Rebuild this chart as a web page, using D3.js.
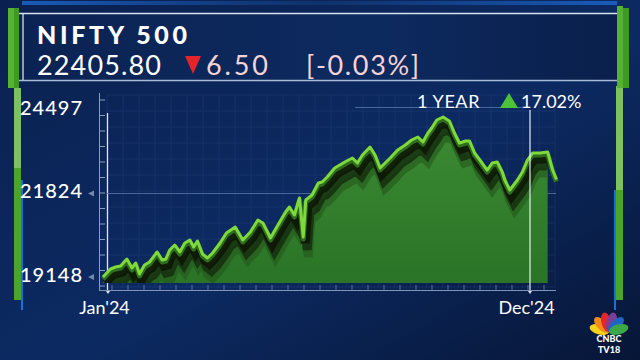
<!DOCTYPE html>
<html>
<head>
<meta charset="utf-8">
<script src="https://cdn.jsdelivr.net/npm/d3@7"></script>
<style>
  body { margin: 0; background: #081a3f; }
  svg { display: block; }
  text { font-family: Lato, "Open Sans", sans-serif; }
</style>
</head>
<body>
<svg id="chart" width="640" height="360"></svg>
<script>
// NIFTY 500, one year
var dates = ["2023-12-28","2024-01-03","2024-01-07","2024-01-11","2024-01-16","2024-01-20","2024-01-23","2024-01-26","2024-01-30",
  "2024-02-03","2024-02-09","2024-02-13","2024-02-16","2024-02-19","2024-02-23","2024-02-27","2024-03-02","2024-03-06","2024-03-09",
  "2024-03-12","2024-03-16","2024-03-20","2024-03-24","2024-03-30","2024-04-04","2024-04-11","2024-04-17","2024-04-23","2024-04-29",
  "2024-05-03","2024-05-09","2024-05-14","2024-05-21","2024-05-24","2024-05-28","2024-06-01","2024-06-04","2024-06-06","2024-06-11",
  "2024-06-16","2024-06-19","2024-06-23","2024-06-29","2024-07-07","2024-07-13","2024-07-17","2024-07-21","2024-07-27","2024-07-31",
  "2024-08-04","2024-08-08","2024-08-12","2024-08-18","2024-08-24","2024-08-29","2024-09-03","2024-09-07","2024-09-11","2024-09-14",
  "2024-09-18","2024-09-23","2024-09-28","2024-10-02","2024-10-06","2024-10-11","2024-10-14","2024-10-18","2024-10-24","2024-10-28",
  "2024-11-01","2024-11-05","2024-11-09","2024-11-11","2024-11-15","2024-11-21","2024-11-25","2024-11-29","2024-12-03","2024-12-09",
  "2024-12-15","2024-12-19","2024-12-22"];
var values = [19148,19415,19482,19516,19750,19449,19616,19248,19549,
  19649,19984,19716,19750,20051,20218,19984,20285,20385,20151,
  20351,19917,19783,19950,20285,20619,20820,20385,20652,21054,
  20953,20452,20820,21321,21488,21221,21789,20485,21722,21889,
  22290,22324,22491,22792,22992,23126,22959,23226,23494,23226,
  22792,22959,23126,23394,23561,23728,23828,23661,23962,24129,
  24397,24497,24363,23962,23628,23694,23694,23293,22959,22725,
  22959,22992,22658,22391,22056,22391,22658,23059,23293,23293,
  23327,22725,22405.8];
var yTicks = [19148, 21824, 24497];
var xTickLabels = ["Jan'24", "Dec'24"];
var xTickDates = ["2024-01-01", "2024-12-01"];

var title = "NIFTY 500",
    lastValue = "22405.80",
    change = "6.50",
    changePct = "[-0.03%]",
    periodLabel = "1 YEAR",
    periodPct = "17.02%";

var parse = d3.timeParse("%Y-%m-%d");
var data = dates.map(function(d, i) { return { date: parse(d), value: values[i] }; });

var svg = d3.select("#chart");
var defs = svg.append("defs");

/** background */
var bg = defs.append("linearGradient").attr("id", "bg").attr("x1", 0).attr("y1", 0).attr("x2", 1).attr("y2", 1);
bg.append("stop").attr("offset", "0%").attr("stop-color", "#0a2150");
bg.append("stop").attr("offset", "55%").attr("stop-color", "#0c2a62");
bg.append("stop").attr("offset", "100%").attr("stop-color", "#071637");
svg.append("rect").attr("width", 640).attr("height", 360).attr("fill", "url(#bg)");

// faint plot grid
var grid = svg.append("g").attr("opacity", 0.12);
d3.range(107, 556, 16).forEach(function(x) {
  grid.append("line").attr("x1", x).attr("x2", x).attr("y1", 95).attr("y2", 288).attr("stroke", "#5f86c8");
});
d3.range(95, 289, 16).forEach(function(y) {
  grid.append("line").attr("x1", 107).attr("x2", 555).attr("y1", y).attr("y2", y).attr("stroke", "#5f86c8");
});

// top blue strip
var topStrip = defs.append("linearGradient").attr("id", "topStrip");
topStrip.append("stop").attr("offset", "0%").attr("stop-color", "#1b62c4").attr("stop-opacity", 0.9);
topStrip.append("stop").attr("offset", "50%").attr("stop-color", "#123a7a").attr("stop-opacity", 0.6);
topStrip.append("stop").attr("offset", "100%").attr("stop-color", "#1b62c4").attr("stop-opacity", 0.9);
svg.append("rect").attr("x", 22).attr("y", 1).attr("width", 595).attr("height", 4).attr("fill", "url(#topStrip)");

/** header box */
var hdr = defs.append("linearGradient").attr("id", "hdr").attr("x1", 0).attr("y1", 0).attr("x2", 1).attr("y2", 0);
hdr.append("stop").attr("offset", "0%").attr("stop-color", "#0b2353");
hdr.append("stop").attr("offset", "60%").attr("stop-color", "#0d2a5f");
hdr.append("stop").attr("offset", "100%").attr("stop-color", "#0a1f4b");
svg.append("rect").attr("x", 18).attr("y", 13).attr("width", 600).attr("height", 68).attr("fill", "url(#hdr)");
svg.append("line").attr("x1", 10).attr("x2", 628).attr("y1", 13.5).attr("y2", 13.5).attr("stroke", "#d8e2ef").attr("stroke-width", 1.6);
svg.append("line").attr("x1", 10).attr("x2", 628).attr("y1", 80.5).attr("y2", 80.5).attr("stroke", "#a9bcd8").attr("stroke-width", 1.4);
svg.append("line").attr("x1", 23).attr("x2", 23).attr("y1", 14).attr("y2", 80).attr("stroke", "#e8eef6").attr("stroke-width", 1.2);

// green side bars
svg.append("rect").attr("x", 14).attr("y", 88).attr("width", 7).attr("height", 212).attr("fill", "#4aa52a");
svg.append("rect").attr("x", 14).attr("y", 88).attr("width", 7).attr("height", 80).attr("fill", "#7cc262");
svg.append("rect").attr("x", 21).attr("y", 180).attr("width", 2).attr("height", 130).attr("fill", "#1f6fd0");
svg.append("rect").attr("x", 8).attr("y", 8).attr("width", 6).attr("height", 80).attr("fill", "#56b232");
svg.append("rect").attr("x", 14).attr("y", 8).attr("width", 5).attr("height", 80).attr("fill", "#3e9a24");
svg.append("rect").attr("x", 616).attr("y", 86).attr("width", 7).attr("height", 214).attr("fill", "#4aa52a");
svg.append("rect").attr("x", 616).attr("y", 86).attr("width", 7).attr("height", 104).attr("fill", "#7cc262");
svg.append("rect").attr("x", 614).attr("y", 190).attr("width", 2).attr("height", 120).attr("fill", "#1f6fd0");
svg.append("rect").attr("x", 617).attr("y", 6).attr("width", 6).attr("height", 82).attr("fill", "#56b232");
svg.append("rect").attr("x", 623).attr("y", 8).attr("width", 6).attr("height", 80).attr("fill", "#3e9a24");

// header texts
svg.append("text").attr("x", 37).attr("y", 44).text(title)
  .attr("fill", "#ffffff").attr("font-size", 25).attr("font-weight", 900).attr("textLength", 150);
svg.append("text").attr("x", 37).attr("y", 75).text(lastValue)
  .attr("fill", "#ffffff").attr("font-size", 27).attr("font-family", "Roboto").attr("textLength", 124);
svg.append("path").attr("d", "M185,56 L201,56 L193,74 Z").attr("fill", "#e3242b");
svg.append("text").attr("x", 206).attr("y", 75).text(change)
  .attr("fill", "#f6d3d6").attr("font-size", 27).attr("font-family", "Roboto").attr("textLength", 62);
svg.append("text").attr("x", 306).attr("y", 75).text(changePct)
  .attr("fill", "#f6d3d6").attr("font-size", 27).attr("font-family", "Roboto").attr("textLength", 113);

/** scales */
var x = d3.scaleTime().domain([parse(xTickDates[0]), parse(xTickDates[1])]).range([108, 530]);
var y = d3.scaleLinear().domain([19148, 24497]).range([277, 117]);
// the printed labels sit a little apart from the data scale
var yLabel = d3.scaleLinear().domain([19148, 24497]).range([275, 108]);

// left axis lines
svg.append("line").attr("x1", 99.5).attr("x2", 99.5).attr("y1", 93).attr("y2", 290).attr("stroke", "#8a9dbd").attr("stroke-width", 1);
d3.range(100, 290, 15.5).forEach(function(ty) {
  svg.append("line").attr("x1", 99.5).attr("x2", 105).attr("y1", ty).attr("y2", ty).attr("stroke", "#8a9dbd").attr("stroke-width", 1);
});
svg.append("line").attr("x1", 107.5).attr("x2", 107.5).attr("y1", 113).attr("y2", 290).attr("stroke", "#dfe7f3").attr("stroke-width", 1.3);

// mid horizontal line
svg.append("line").attr("x1", 107).attr("x2", 556).attr("y1", 193.5).attr("y2", 193.5).attr("stroke", "#5a78aa").attr("stroke-width", 1).attr("opacity", 0.8);

// y labels + little arrows
yTicks.forEach(function(v, i) {
  svg.append("text").attr("x", 82).attr("y", yLabel(v) + 7).attr("text-anchor", "end")
    .attr("fill", "#ffffff").attr("font-size", 20).attr("font-weight", 500).attr("font-family", "Roboto")
    .attr("textLength", 62).text(d3.format("d")(v));
  if (i < 2) {
    var ay = yLabel(v) + 2;
    svg.append("path").attr("d", "M88," + ay + " L94," + (ay - 3) + " L94," + (ay + 3) + " Z").attr("fill", "#7388ad");
  }
});

/** area + 3D line */
var fillGrad = defs.append("linearGradient").attr("id", "fill").attr("x1", 0).attr("y1", 0).attr("x2", 0).attr("y2", 1);
fillGrad.append("stop").attr("offset", "0%").attr("stop-color", "#3c8c33");
fillGrad.append("stop").attr("offset", "100%").attr("stop-color", "#2a7327");

var areaData = data.filter(function(d) { return x(d.date) <= 549; });
var area = d3.area().x(function(d) { return x(d.date); }).y0(283).y1(function(d) { return y(d.value); });
svg.append("path").datum(areaData).attr("d", area).attr("fill", "url(#fill)");

var line = d3.line().x(function(d) { return x(d.date); }).y(function(d) { return y(d.value); });
var clip = defs.append("clipPath").attr("id", "areaClip");
clip.append("path").datum(areaData).attr("d", area);

// shaded extrusion below the ribbon
var shade = svg.append("g").attr("clip-path", "url(#areaClip)");
[[5, 20, "#24561b", 0.6], [4, 13, "#142a0e", 0.8], [2, 6, "#0d1706", 0.9]].forEach(function(s) {
  shade.append("path").datum(data).attr("d", line).attr("fill", "none")
    .attr("stroke", s[2]).attr("stroke-width", 9).attr("opacity", s[3])
    .attr("transform", "translate(" + s[0] + "," + s[1] + ")");
});
svg.append("path").datum(data).attr("d", line).attr("fill", "none")
  .attr("stroke", "#2f6e1f").attr("stroke-width", 5).attr("stroke-linejoin", "round").attr("transform", "translate(0,2)");
svg.append("path").datum(data).attr("d", line).attr("fill", "none")
  .attr("stroke", "#7fd83c").attr("stroke-width", 3).attr("stroke-linejoin", "round");

// bottom axis
svg.append("line").attr("x1", 99).attr("x2", 556).attr("y1", 290.5).attr("y2", 290.5).attr("stroke", "#7f94b8").attr("stroke-width", 1.2);
d3.range(112, 556, 16).forEach(function(tx) {
  svg.append("line").attr("x1", tx).attr("x2", tx).attr("y1", 285).attr("y2", 290).attr("stroke", "#6d86b0").attr("stroke-width", 0.8);
});
var xAxis = d3.axisBottom(x).tickValues(xTickDates.map(parse))
  .tickFormat(function(d, i) { return xTickLabels[i]; }).tickSize(0).tickPadding(10);
var gx = svg.append("g").attr("transform", "translate(0,291)").call(xAxis);
gx.select(".domain").remove();
gx.selectAll("text").attr("fill", "#ffffff").attr("font-size", 18).attr("font-family", "Roboto").attr("dx", "-4");
xTickDates.forEach(function(d) {
  var tx = x(parse(d));
  svg.append("path").attr("d", "M" + (tx - 2) + ",291 L" + (tx + 2) + ",291 L" + tx + ",294 Z").attr("fill", "#dfe7f3");
});

// december marker
svg.append("line").attr("x1", x(parse(xTickDates[1]))).attr("x2", x(parse(xTickDates[1])))
  .attr("y1", 110).attr("y2", 290).attr("stroke", "#e8eef8").attr("stroke-width", 1.2);

// 1 year label
svg.append("line").attr("x1", 355).attr("x2", 530).attr("y1", 107.5).attr("y2", 107.5).attr("stroke", "#48679c").attr("stroke-width", 1);
svg.append("text").attr("x", 417).attr("y", 108).text(periodLabel)
  .attr("fill", "#ffffff").attr("font-size", 18).attr("font-weight", 400).attr("letter-spacing", 0.6);
svg.append("path").attr("d", "M500,108 L509,93 L518,108 Z").attr("fill", "#4cc23a");
svg.append("text").attr("x", 521).attr("y", 108).text(periodPct)
  .attr("fill", "#ffffff").attr("font-size", 18).attr("font-weight", 400);

/** CNBC TV18 logo */
var logo = svg.append("g").attr("transform", "translate(609,332)");
var feathers = ["#f6d21c", "#f28a1c", "#e0282c", "#7b3f98", "#1f66c4", "#3aa845"];
feathers.forEach(function(c, i) {
  var a = -75 + i * 30;
  logo.append("ellipse").attr("cx", 0).attr("cy", -10).attr("rx", 5).attr("ry", 10).attr("fill", c)
    .attr("transform", "rotate(" + a + ",0,0)");
});
logo.append("text").attr("x", 0).attr("y", 10).attr("text-anchor", "middle").text("CNBC")
  .attr("fill", "#ffffff").attr("font-size", 9).attr("font-weight", 900);
logo.append("text").attr("x", 0).attr("y", 21).attr("text-anchor", "middle").text("TV18")
  .attr("fill", "#ffffff").attr("font-size", 9).attr("font-weight", 900);
</script>
</body>
</html>
